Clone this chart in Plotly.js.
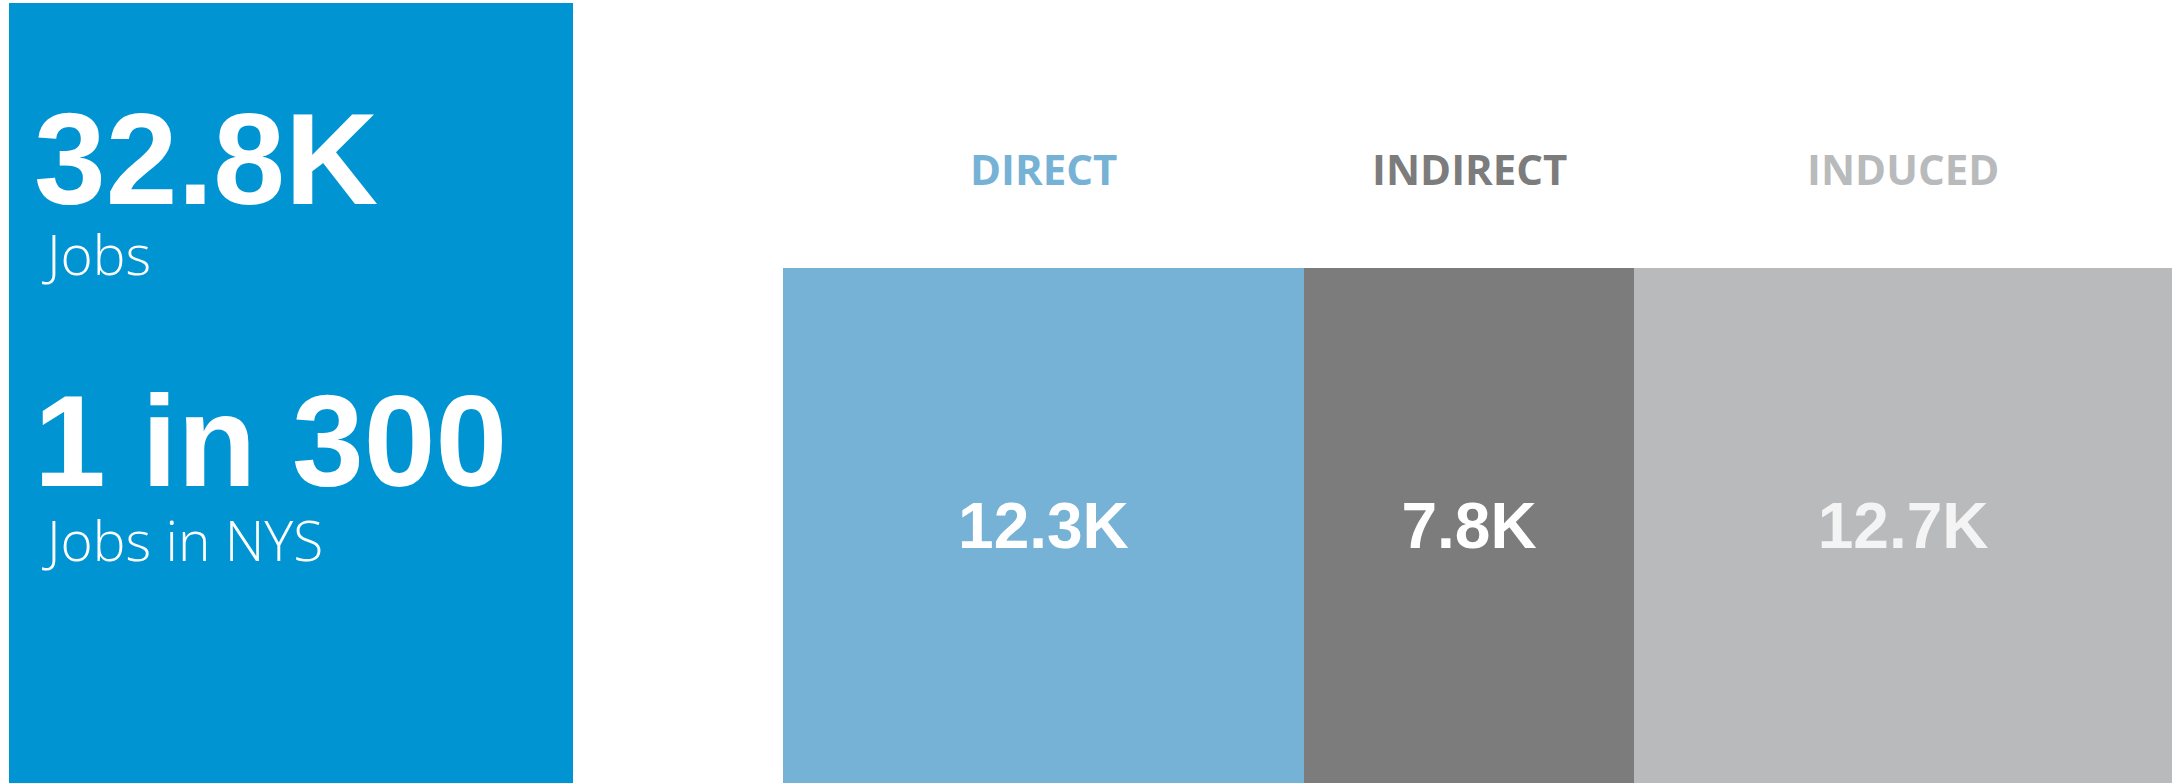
<!DOCTYPE html>
<html>
<head>
<meta charset="utf-8">
<script src="https://cdn.plot.ly/plotly-3.0.1.min.js"></script>
<style>
  html, body { margin: 0; padding: 0; background: #ffffff; }
  #chart { width: 2172px; height: 783px; }
</style>
</head>
<body>
<div id="chart"></div>
<script>
// ---- Data ----
const categories = ['DIRECT', 'INDIRECT', 'INDUCED'];
const jobsK = [12.3, 7.8, 12.7];
const barColors = ['#76B2D5', '#7C7C7C', '#B9BABC'];
const valueTextColors = ['#FFFFFF', '#FFFFFF', '#F4F4F4'];
const headlineValues = ['32.8K', '1 in 300'];
const headlineLabels = ['Jobs', 'Jobs in NYS'];

// ---- Geometry ----
const W = 2172, H = 783;
const barLeftPx = 783;
const barTopPx = 268;
const panelColor = '#0094D3';
const totalK = jobsK.reduce((a, b) => a + b, 0);

const traces = categories.map((c, i) => ({
  type: 'bar',
  orientation: 'h',
  name: c,
  x: [jobsK[i]],
  y: [0],
  width: 1,
  marker: { color: barColors[i], line: { width: 0 } },
  text: [jobsK[i].toFixed(1) + 'K'],
  textposition: 'inside',
  insidetextanchor: 'middle',
  textangle: 0,
  textfont: { family: 'Arial, "Liberation Sans", sans-serif', size: 64, color: valueTextColors[i], weight: 'bold' },
  hoverinfo: 'skip'
}));

// cumulative centers for category labels
const centers = [];
let acc = 0;
jobsK.forEach(v => { centers.push(acc + v / 2); acc += v; });

const annotations = [];
categories.forEach((c, i) => {
  annotations.push({
    text: c,
    xref: 'x', yref: 'paper',
    x: centers[i], y: 1 - 168 / H,
    xanchor: 'center', yanchor: 'middle',
    showarrow: false,
    font: { family: '"Open Sans", sans-serif', size: 42, color: barColors[i], weight: 'bold' }
  });
});

// headline stats in blue panel
const headlineCenterY = [159, 441];
const labelCenterY = [253, 539];
headlineValues.forEach((v, i) => {
  annotations.push({
    text: '<b>' + v + '</b>',
    xref: 'paper', yref: 'paper',
    x: 32 / W, y: 1 - headlineCenterY[i] / H,
    xanchor: 'left', yanchor: 'middle',
    showarrow: false,
    font: { family: 'Arial, "Liberation Sans", sans-serif', size: 129, color: '#FFFFFF' }
  });
  annotations.push({
    text: headlineLabels[i],
    xref: 'paper', yref: 'paper',
    x: 40 / W, y: 1 - labelCenterY[i] / H,
    xanchor: 'left', yanchor: 'middle',
    showarrow: false,
    font: { family: '"Open Sans", sans-serif', size: 55, color: '#FFFFFF', weight: 300 }
  });
});

const layout = {
  width: W, height: H,
  margin: { l: 0, r: 0, t: 0, b: 0, pad: 0 },
  paper_bgcolor: '#FFFFFF',
  plot_bgcolor: 'rgba(0,0,0,0)',
  barmode: 'stack',
  bargap: 0,
  showlegend: false,
  hovermode: false,
  xaxis: {
    domain: [barLeftPx / W, 1],
    range: [0, totalK],
    visible: false, fixedrange: true
  },
  yaxis: {
    domain: [0, (H - barTopPx) / H],
    range: [-0.5, 0.5],
    visible: false, fixedrange: true
  },
  shapes: [{
    type: 'rect', xref: 'paper', yref: 'paper',
    x0: 9 / W, x1: 573 / W, y0: 0, y1: 1 - 3 / H,
    fillcolor: panelColor, line: { width: 0 }, layer: 'below'
  }],
  annotations: annotations
};

Plotly.newPlot('chart', traces, layout, { displayModeBar: false, staticPlot: true });
</script>
</body>
</html>
